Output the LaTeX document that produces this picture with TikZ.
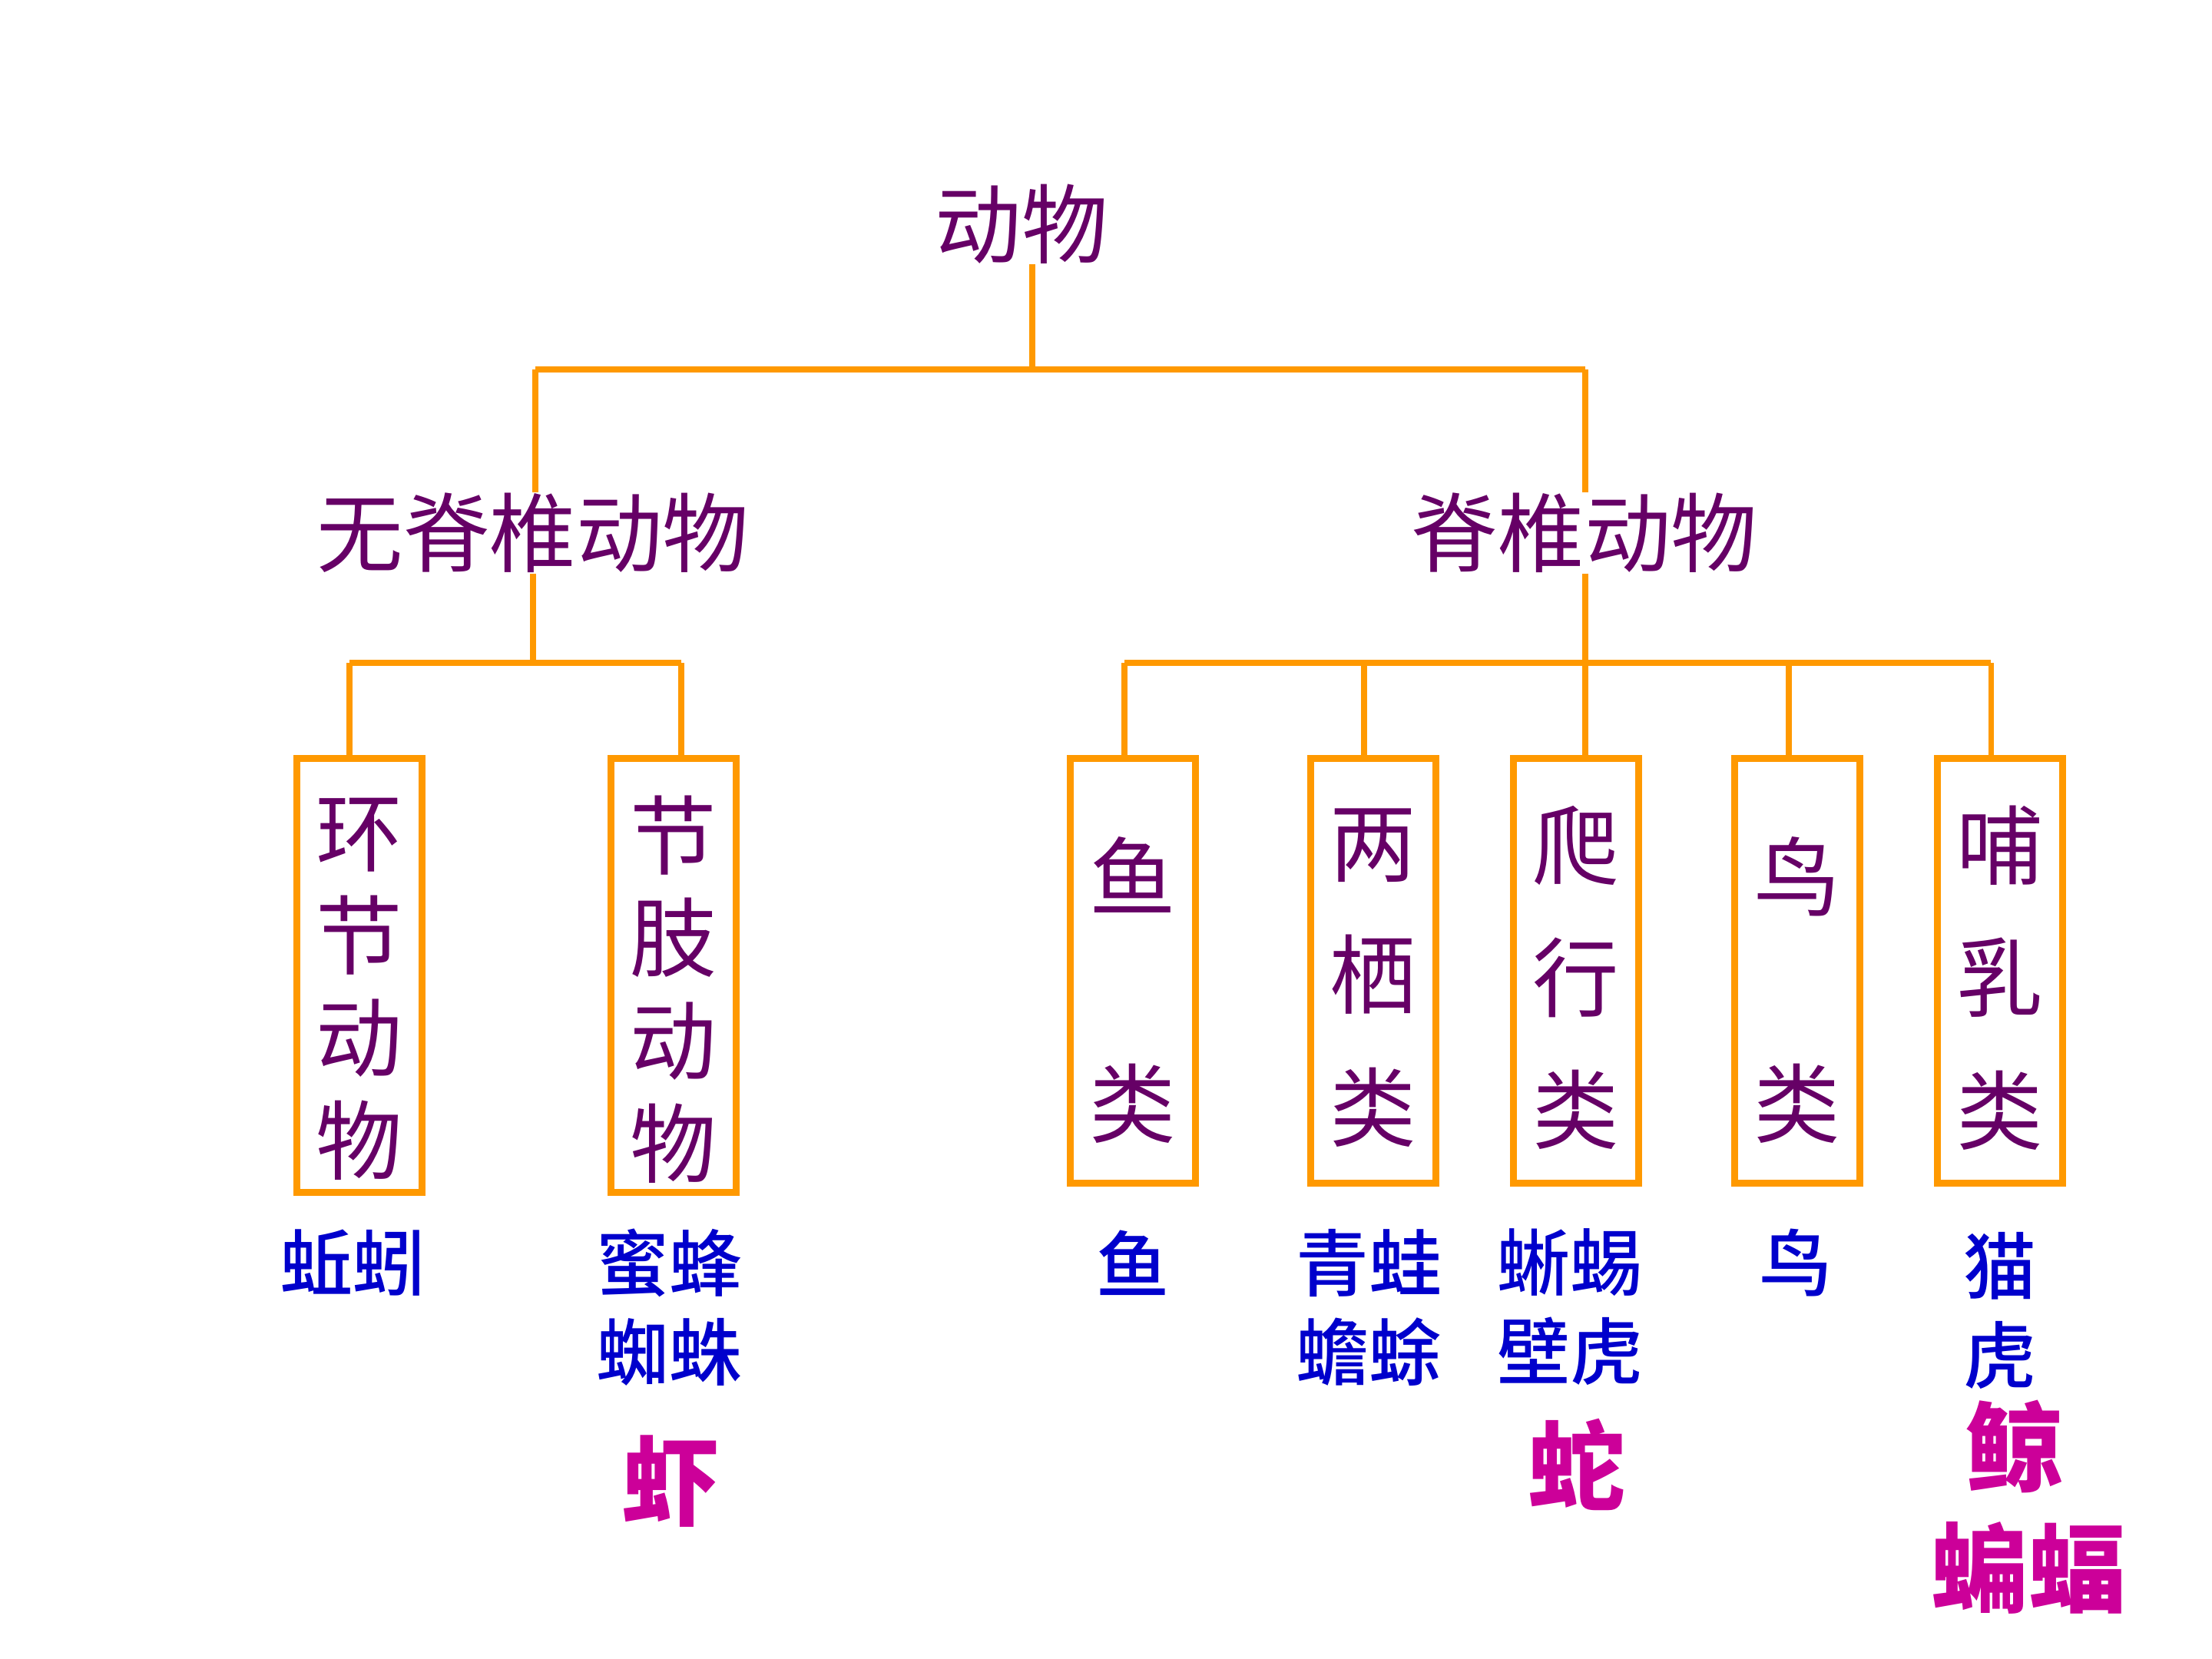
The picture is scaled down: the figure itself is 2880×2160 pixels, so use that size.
\documentclass[tikz,border=0pt]{standalone}
\usepackage{fontspec}
\newfontfamily\cjk{Noto Sans CJK SC}
\newfontfamily\cjkm{Noto Sans CJK SC}[UprightFont={* Medium}]
\definecolor{orng}{HTML}{FF9900}
\definecolor{purp}{HTML}{660066}
\definecolor{blu}{HTML}{0000CC}
\definecolor{mag}{HTML}{CC0099}
\tikzset{
  conn/.style={draw=orng, line width=2pt},
  box/.style={draw=orng, line width=2.5pt, minimum width=1.63cm, inner sep=0pt},
  boxtxt/.style={align=center, inner sep=0pt, text=purp},
  lab/.style={font=\cjk\fontsize{32}{38}\selectfont, text=purp, inner sep=0pt},
  ex/.style={font=\cjkm\fontsize{27}{33}\selectfont, text=blu, align=center, inner sep=0pt},
  mg/.style={font=\cjk\bfseries\fontsize{36}{42}\selectfont, text=mag, inner sep=0pt}
}
\begin{document}
\begin{tikzpicture}[x=0.01cm,y=-0.01cm]
\useasboundingbox (0,0) rectangle (2880,2160);
% labels
\node[lab] (top) at (1330,292) {动物};
\node[lab] (inv) at (694,694) {无脊椎动物};
\node[lab] (ver) at (2063,694) {脊椎动物};
% boxes
\node[box, minimum height=5.64cm] (huan) at (468,1270) {};
\node[box, minimum height=5.64cm] (jie) at (877,1270) {};
\node[box, minimum height=5.52cm] (yu) at (1475,1264) {};
\node[box, minimum height=5.52cm] (liang) at (1788,1264) {};
\node[box, minimum height=5.52cm] (pa) at (2052,1264) {};
\node[box, minimum height=5.52cm] (niao) at (2340,1264) {};
\node[box, minimum height=5.52cm] (bu) at (2604,1264) {};
% box texts
\node[boxtxt, font=\cjk\fontsize{32}{38}\selectfont] (huanT) at (468,1288) {环\\节\\动\\物};
\node[boxtxt, font=\cjk\fontsize{32}{38}\selectfont] (jieT) at (877,1288) {节\\肢\\动\\物};
\node[boxtxt, font=\cjk\fontsize{32}{84}\selectfont] (yuT) at (1475,1289) {鱼\\类};
\node[boxtxt, font=\cjk\fontsize{32}{49}\selectfont] (liangT) at (1788,1273) {两\\栖\\类};
\node[boxtxt, font=\cjk\fontsize{32}{49}\selectfont] (paT) at (2052,1273) {爬\\行\\类};
\node[boxtxt, font=\cjk\fontsize{32}{84}\selectfont] (niaoT) at (2340,1289) {鸟\\类};
\node[boxtxt, font=\cjk\fontsize{32}{49}\selectfont] (buT) at (2604,1273) {哺\\乳\\类};
% bus coordinates
\coordinate (t0) at (1344,481);
\coordinate (t0L) at (697,481);
\coordinate (t0R) at (2064,481);
\coordinate (i0) at (694,863);
\coordinate (i0L) at (455,863);
\coordinate (i0R) at (887,863);
\coordinate (v0) at (2064,863);
\coordinate (vA) at (1464,863);
\coordinate (vB) at (1776,863);
\coordinate (vD) at (2329,863);
\coordinate (vE) at (2592,863);
% connectors
\draw[conn] (top.south -| t0) -- (t0);
\draw[conn] (t0L) -- (t0R);
\draw[conn] (t0L) -- (t0L |- inv.north);
\draw[conn] (t0R) -- (t0R |- ver.north);
\draw[conn] (inv.south -| i0) -- (i0);
\draw[conn] (i0L) -- (i0R);
\draw[conn] (i0L) -- (i0L |- huan.north);
\draw[conn] (i0R) -- (i0R |- jie.north);
\draw[conn] (ver.south -| v0) -- (v0);
\draw[conn] (vA) -- (vE);
\draw[conn] (vA) -- (vA |- yu.north);
\draw[conn] (vB) -- (vB |- liang.north);
\draw[conn] (v0) -- (v0 |- pa.north);
\draw[conn] (vD) -- (vD |- niao.north);
\draw[conn] (vE) -- (vE |- bu.north);
% examples
\node[ex] (e1) at (459,1644) {蚯蚓};
\node[ex] (e2) at (871,1702) {蜜蜂\\蜘蛛};
\node[ex] (e3) at (1475,1644) {鱼};
\node[ex] (e4) at (1782,1702) {青蛙\\蟾蜍};
\node[ex] (e5) at (2044,1702) {蜥蜴\\壁虎};
\node[ex] (e6) at (2338,1644) {鸟};
\node[ex] (e7) at (2604,1706) {猫\\虎};
% special examples
\node[mg] (m1) at (874,1929) {虾};
\node[mg] (m2) at (2053,1907) {蛇};
\node[mg] (m3) at (2623,1883) {鲸};
\node[mg] (m4) at (2641,2041) {蝙蝠};
\end{tikzpicture}
\end{document}
